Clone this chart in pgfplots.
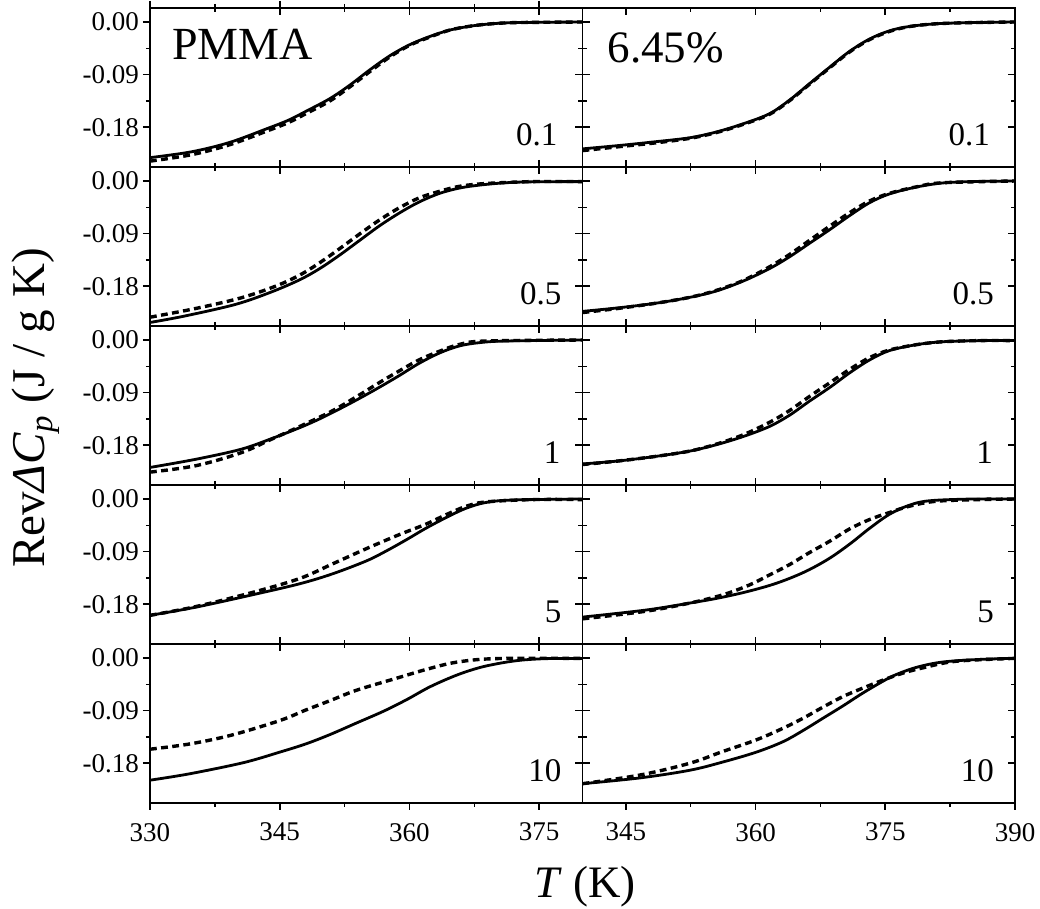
\documentclass[border=0pt]{standalone}
\usepackage{fontspec}
\setmainfont{Liberation Serif}
\usepackage{pgfplots}
\pgfplotsset{compat=1.18}
\begin{document}
\begin{tikzpicture}
\useasboundingbox (-75pt,-53pt) rectangle (445pt,401.5pt);
\pgfplotsset{
  panel/.style={scale only axis, width=216.25pt, height=79.5pt, anchor=south west,
    ymin=-0.248, ymax=0.024, ytick={-0.18,-0.09,0}, yticklabels={}, xticklabels={},
    minor x tick num=1, minor y tick num=1, tick align=inside,
    major tick length=3.5pt, minor tick length=2pt,
    axis line style={line width=0.9pt},
    every tick/.append style={black, line width=0.8pt},
    tick label style={font=\fontsize{13.5}{16}\selectfont},
    yticklabel style={xshift=-2pt}, xticklabel style={yshift=-6.5pt}},
  Lc/.style={xmin=330, xmax=380, xtick={330,345,360,375}},
  Rc/.style={xmin=340, xmax=390, xtick={345,360,375,390}},
  ylab/.style={ytick pos=right, yticklabel pos=left, yticklabels={-0.18,-0.09,0.00}},
  xlabL/.style={xtick pos=top, xticklabel pos=bottom, xticklabels={330,345,360,375}},
  xlabR/.style={xtick pos=top, xticklabel pos=bottom, xticklabels={345,360,375,390}},
  solidc/.style={black, line width=1.4pt, smooth, tension=0.55},
  dashc/.style={black, line width=1.7pt, dash pattern=on 3.4pt off 2.2pt, smooth, tension=0.55},
  outL/.style={panel, tick align=outside, ytick pos=left, xtick=\empty},
  outB/.style={panel, tick align=outside, xtick pos=bottom, ytick=\empty},
  outLB/.style={panel, tick align=outside, xtick pos=bottom, ytick pos=left},
}
\tikzset{num/.style={anchor=base east, font=\fontsize{16.5}{19}\selectfont}}

% ---------------- Row 1 : 0.1 ----------------
\begin{axis}[panel, Lc, ylab, at={(0pt,318pt)}]
\addplot[solidc] coordinates {(330,-0.232)(334.8,-0.222)(339.2,-0.206)(343.6,-0.182)(346.0,-0.168)(348.0,-0.153)(350.8,-0.131)(353.1,-0.108)(355.4,-0.082)(357.7,-0.058)(360.0,-0.039)(362.3,-0.025)(364.6,-0.014)(366.9,-0.0074)(369.2,-0.0034)(372.3,-0.001)(380,0)};
\addplot[dashc] coordinates {(330,-0.238)(334.8,-0.227)(339.2,-0.210)(343.6,-0.186)(346.0,-0.172)(348.0,-0.157)(350.8,-0.135)(353.1,-0.111)(355.4,-0.085)(357.7,-0.060)(360.0,-0.040)(362.3,-0.026)(364.6,-0.014)(366.9,-0.0074)(369.2,-0.0034)(372.3,-0.001)(380,0)};
\node[anchor=base west, font=\fontsize{23}{28}\selectfont] at ([shift={(7.5pt,-26pt)}]rel axis cs:0,1) {PMMA};
\node[num] at ([shift={(-9pt,10.5pt)}]rel axis cs:1,0) {0.1};
\end{axis}
\begin{axis}[outL, Lc, at={(0pt,318pt)}]\end{axis}

\begin{axis}[panel, Rc, at={(216.25pt,318pt)}]
\addplot[solidc] coordinates {(340,-0.217)(344.4,-0.211)(348.3,-0.205)(352.4,-0.198)(355.5,-0.188)(358.6,-0.174)(361.6,-0.157)(363.9,-0.134)(366.2,-0.106)(368.6,-0.077)(370.9,-0.050)(373.2,-0.029)(375.5,-0.015)(377.8,-0.0076)(380.9,-0.003)(385.1,-0.001)(390,0)};
\addplot[dashc] coordinates {(340,-0.220)(344.4,-0.213)(348.3,-0.207)(352.4,-0.199)(355.5,-0.189)(358.6,-0.175)(361.6,-0.158)(363.9,-0.135)(366.2,-0.107)(368.6,-0.078)(370.9,-0.051)(373.2,-0.030)(375.5,-0.016)(377.8,-0.0078)(380.9,-0.003)(385.1,-0.001)(390,0)};
\node[anchor=base west, font=\fontsize{22.5}{27}\selectfont] at ([shift={(9pt,-27.5pt)}]rel axis cs:0,1) {6.45\%};
\node[num] at ([shift={(-9pt,10.5pt)}]rel axis cs:1,0) {0.1};
\end{axis}

% ---------------- Row 2 : 0.5 ----------------
\begin{axis}[panel, Lc, ylab, at={(0pt,238.5pt)}]
\addplot[solidc] coordinates {(330,-0.242)(334.0,-0.231)(339.9,-0.211)(344.0,-0.190)(347.3,-0.169)(349.6,-0.150)(351.9,-0.127)(354.2,-0.102)(356.5,-0.077)(358.8,-0.055)(361.1,-0.036)(363.5,-0.021)(365.8,-0.012)(368.1,-0.007)(371.1,-0.003)(374.2,-0.0014)(380,-0.001)};
\addplot[dashc] coordinates {(330,-0.233)(335.3,-0.218)(340.5,-0.200)(344.5,-0.180)(347.3,-0.161)(349.6,-0.140)(351.9,-0.116)(354.2,-0.091)(356.5,-0.067)(358.8,-0.046)(361.1,-0.029)(363.5,-0.0175)(365.8,-0.009)(368.8,-0.0043)(374.2,-0.001)(380,-0.001)};
\node[num] at ([shift={(-7pt,10.5pt)}]rel axis cs:1,0) {0.5};
\end{axis}
\begin{axis}[outL, Lc, at={(0pt,238.5pt)}]\end{axis}

\begin{axis}[panel, Rc, at={(216.25pt,238.5pt)}]
\addplot[solidc] coordinates {(340,-0.223)(344.1,-0.217)(348.5,-0.209)(352.4,-0.199)(355.5,-0.188)(358.6,-0.171)(361.6,-0.150)(363.9,-0.130)(366.2,-0.107)(368.6,-0.083)(370.9,-0.059)(373.2,-0.037)(375.5,-0.022)(378.6,-0.0103)(381.6,-0.0034)(385,-0.001)(390,0)};
\addplot[dashc] coordinates {(340,-0.225)(344.1,-0.218)(348.5,-0.209)(352.4,-0.199)(355.5,-0.187)(358.6,-0.170)(361.6,-0.147)(363.9,-0.126)(366.2,-0.102)(368.6,-0.077)(370.9,-0.054)(373.2,-0.034)(375.5,-0.021)(378.6,-0.010)(381.6,-0.003)(390,0)};
\node[num] at ([shift={(-7pt,10.5pt)}]rel axis cs:1,0) {0.5};
\end{axis}

% ---------------- Row 3 : 1 ----------------
\begin{axis}[panel, Lc, ylab, at={(0pt,159pt)}]
\addplot[solidc] coordinates {(330,-0.218)(335.3,-0.204)(340.5,-0.187)(344.0,-0.169)(347.3,-0.150)(349.6,-0.135)(351.9,-0.118)(354.2,-0.100)(356.5,-0.081)(358.8,-0.061)(361.1,-0.040)(363.5,-0.022)(365.8,-0.010)(368.1,-0.0045)(371.1,-0.0017)(380,0)};
\addplot[dashc] coordinates {(330,-0.226)(335.3,-0.215)(340.5,-0.193)(344.0,-0.170)(347.3,-0.148)(351.1,-0.121)(354.2,-0.094)(356.5,-0.073)(358.8,-0.053)(361.1,-0.034)(363.5,-0.019)(365.8,-0.0074)(368.8,-0.0017)(380,0)};
\node[num] at ([shift={(-7.5pt,10.5pt)}]rel axis cs:1,0) {1};
\end{axis}
\begin{axis}[outL, Lc, at={(0pt,159pt)}]\end{axis}

\begin{axis}[panel, Rc, at={(216.25pt,159pt)}]
\addplot[solidc] coordinates {(340,-0.212)(344.1,-0.207)(348.5,-0.199)(352.4,-0.190)(355.5,-0.179)(358.6,-0.165)(361.6,-0.148)(363.9,-0.129)(366.2,-0.105)(368.6,-0.081)(370.9,-0.056)(373.2,-0.034)(375.5,-0.018)(378.6,-0.008)(381.6,-0.003)(386,-0.001)(390,-0.001)};
\addplot[dashc] coordinates {(340,-0.213)(344.1,-0.207)(348.5,-0.199)(352.4,-0.190)(355.5,-0.178)(358.6,-0.162)(361.6,-0.141)(363.9,-0.121)(366.2,-0.097)(368.6,-0.073)(370.9,-0.050)(373.2,-0.030)(375.5,-0.017)(378.6,-0.008)(381.6,-0.003)(386,-0.001)(390,-0.001)};
\node[num] at ([shift={(-7.5pt,10.5pt)}]rel axis cs:1,0) {1};
\end{axis}

% ---------------- Row 4 : 5 ----------------
\begin{axis}[panel, Lc, ylab, at={(0pt,79.5pt)}]
\addplot[solidc] coordinates {(330,-0.199)(335.3,-0.185)(341.8,-0.164)(347.3,-0.145)(351.1,-0.128)(355.0,-0.106)(357.3,-0.089)(359.6,-0.070)(361.9,-0.050)(364.2,-0.032)(366.5,-0.016)(368.8,-0.006)(371.9,-0.0017)(380,0)};
\addplot[dashc] coordinates {(330,-0.199)(335.3,-0.184)(341.8,-0.160)(347.3,-0.136)(351.1,-0.111)(355.0,-0.085)(358.8,-0.061)(361.9,-0.043)(364.2,-0.027)(366.5,-0.0127)(368.8,-0.005)(374.2,-0.001)(380,-0.001)};
\node[num] at ([shift={(-7pt,10.5pt)}]rel axis cs:1,0) {5};
\end{axis}
\begin{axis}[outL, Lc, at={(0pt,79.5pt)}]\end{axis}

\begin{axis}[panel, Rc, at={(216.25pt,79.5pt)}]
\addplot[solidc] coordinates {(340,-0.202)(347.3,-0.190)(352.4,-0.178)(355.5,-0.170)(358.6,-0.160)(361.6,-0.148)(363.9,-0.136)(366.2,-0.121)(368.6,-0.101)(370.9,-0.077)(373.2,-0.050)(375.5,-0.026)(377.8,-0.0105)(380.1,-0.0030)(385,0)(390,0)};
\addplot[dashc] coordinates {(340,-0.205)(347.3,-0.192)(352.4,-0.178)(356.2,-0.164)(359.3,-0.147)(361.6,-0.130)(363.9,-0.1125)(366.2,-0.092)(368.6,-0.072)(370.9,-0.051)(373.2,-0.035)(375.5,-0.023)(377.8,-0.0123)(380.9,-0.0038)(386,-0.001)(390,0)};
\node[num] at ([shift={(-7pt,10.5pt)}]rel axis cs:1,0) {5};
\end{axis}

% ---------------- Row 5 : 10 ----------------
\begin{axis}[panel, Lc, ylab, xlabL, at={(0pt,0pt)}]
\addplot[solidc] coordinates {(330,-0.209)(334.6,-0.198)(340.8,-0.179)(345.0,-0.161)(348.0,-0.147)(350.8,-0.131)(353.9,-0.111)(357.0,-0.091)(359.7,-0.071)(362.4,-0.049)(365.5,-0.029)(368.2,-0.016)(370.8,-0.008)(373.1,-0.0034)(376,-0.001)(380,-0.001)};
\addplot[dashc] coordinates {(330,-0.156)(334.6,-0.147)(339.4,-0.132)(345.0,-0.107)(348.0,-0.089)(350.8,-0.073)(353.9,-0.055)(358.4,-0.035)(362.3,-0.018)(365.5,-0.007)(370,-0.001)(380,-0.0006)};
\node[num] at ([shift={(-7pt,10.5pt)}]rel axis cs:1,0) {10};
\end{axis}
\begin{axis}[outLB, Lc, at={(0pt,0pt)}]\end{axis}

\begin{axis}[panel, Rc, xlabR, at={(216.25pt,0pt)}]
\addplot[solidc] coordinates {(340,-0.215)(346.7,-0.205)(352.4,-0.192)(356.2,-0.178)(360.1,-0.161)(363.2,-0.143)(365.5,-0.124)(367.8,-0.103)(370.1,-0.082)(372.4,-0.060)(374.7,-0.040)(376.2,-0.0287)(378.6,-0.016)(381.6,-0.0069)(385.9,-0.0024)(390,-0.0006)};
\addplot[dashc] coordinates {(340,-0.215)(346.7,-0.200)(352.4,-0.180)(356.2,-0.160)(360.1,-0.140)(363.2,-0.120)(365.5,-0.103)(367.8,-0.084)(370.1,-0.066)(372.4,-0.0515)(374.7,-0.038)(377.0,-0.026)(379.3,-0.017)(383.2,-0.0055)(390,-0.0006)};
\node[num] at ([shift={(-7pt,10.5pt)}]rel axis cs:1,0) {10};
\end{axis}
\begin{axis}[outB, Rc, at={(216.25pt,0pt)}]\end{axis}

% ---------------- axis titles ----------------
\node[rotate=90, anchor=base, font=\fontsize{23.5}{28}\selectfont] at (-52.5pt,197.5pt) {Rev\textit{ΔC}\textsubscript{\textit{p}} (J / g K)};
\node[anchor=base, font=\fontsize{22.5}{27}\selectfont] at (217.5pt,-47.5pt) {\textit{T} (K)};
\end{tikzpicture}
\end{document}
